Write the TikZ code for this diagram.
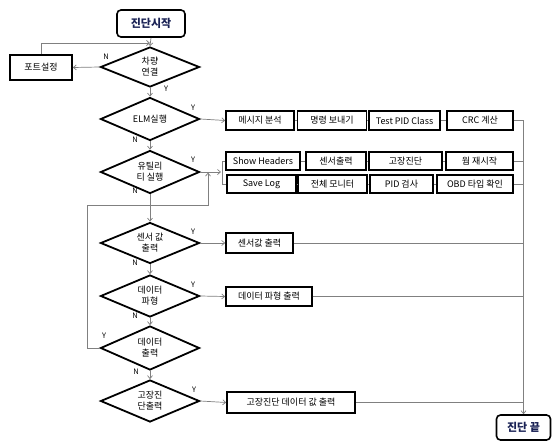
\documentclass[tikz,border=0pt]{standalone}
\usepackage{fontspec}
\setmainfont{Noto Sans CJK KR}
\usetikzlibrary{shapes.geometric,arrows.meta}
\definecolor{lineg}{HTML}{808080}
\definecolor{navy}{HTML}{1A2255}
\tikzset{
  box/.style={draw=black,line width=1.6pt,minimum height=19pt,inner sep=0pt,font=\fontsize{9}{10}\selectfont},
  term/.style={draw=black,line width=1.6pt,rounded corners=4pt,inner sep=0pt,font=\fontsize{11}{12}\selectfont\bfseries,text=navy},
  dia/.style={draw=black,line width=1.8pt,shape=diamond,aspect=2.35,inner sep=0pt,minimum width=99pt,minimum height=42pt,align=center,font=\fontsize{9}{11}\selectfont},
  conn/.style={draw=lineg,line width=0.7pt},
  arr/.style={conn,-{Straight Barb[length=3pt,width=5pt]}},
  yn/.style={inner sep=0pt,font=\fontsize{7.5}{8}\selectfont},
}
\begin{document}
\begin{tikzpicture}[x=1pt,y=-1pt]
\useasboundingbox (0,0) rectangle (553,442);
% terminals
\node[term,minimum width=68pt,minimum height=27pt] (start) at (151,23.5) {진단시작};
\node[term,minimum width=54pt,minimum height=25pt] (end) at (523.5,427.5) {진단 끝};
% diamonds
\node[dia,minimum height=40pt] (d1) at (150,67) {차량\\연결};
\node[dia,minimum height=43pt] (d2) at (150,119) {ELM실행};
\node[dia,minimum height=43pt] (d3) at (150,172) {유틸리\\티 실행};
\node[dia,minimum height=41pt] (d4) at (150,243) {센서 값\\출력};
\node[dia] (d5) at (150,296) {데이터\\파형};
\node[dia,minimum height=44pt] (d6) at (150,348) {데이터\\출력};
\node[dia] (d7) at (150,401) {고장진\\단출력};
% side box
\node[box,minimum width=62pt,minimum height=25pt] (port) at (41,67.5) {포트설정};
% row 1
\node[box,minimum width=68pt] (b11) at (260,120.5) {메시지 분석};
\node[box,minimum width=69pt] (b12) at (332,120.5) {명령 보내기};
\node[box,minimum width=71pt] (b13) at (404.5,120.5) {Test PID Class};
\node[box,minimum width=66pt] (b14) at (480,120.5) {CRC 계산};
% row 2
\node[box,minimum width=74pt,minimum height=18pt] (b21) at (263,161) {Show Headers};
\node[box,minimum width=60pt,minimum height=18pt] (b22) at (336,161) {센서출력};
\node[box,minimum width=73pt,minimum height=18pt] (b23) at (405.5,161) {고장진단};
\node[box,minimum width=67pt,minimum height=18pt] (b24) at (479.5,161) {웜 재시작};
% row 3
\node[box,minimum width=69pt,minimum height=18pt] (b31) at (261.5,184) {Save Log};
\node[box,minimum width=69pt,minimum height=18pt] (b32) at (332.5,184) {전체 모니터};
\node[box,minimum width=63pt,minimum height=18pt] (b33) at (401.5,184) {PID 검사};
\node[box,minimum width=76pt,minimum height=18pt] (b34) at (475,184) {OBD 타입 확인};
% outputs
\node[box,minimum width=67pt,minimum height=20pt] (b4) at (259.5,243) {센서값 출력};
\node[box,minimum width=86pt] (b5) at (269,296.5) {데이터 파형 출력};
\node[box,minimum width=128pt,minimum height=21pt] (b6) at (291,402.5) {고장진단 데이터 값 출력};
% helper coordinates
\coordinate (j1) at (150,43);
\coordinate (pc) at (41,43);
\coordinate (bt) at (222,161);
\coordinate (bb) at (222,184);
\coordinate (bm) at (221,172);
\coordinate (lp1) at (87,348);
\coordinate (lp2) at (87,205);
\coordinate (lp3) at (208,205);
\coordinate (lp4) at (208,172.6);
\coordinate (rv) at (523.5,120.5);
% main flow
\draw[arr] (start.south) -- (d1.north);
\draw[arr] (d1.west) -- (port.east);
\draw[arr] (port.north) -- (pc) -- (j1);
\draw[arr] (d1.south) -- (d2.north);
\draw[arr] (d2.south) -- (d3.north);
\draw[arr] (d3.south) -- (d4.north);
\draw[arr] (d4.south) -- (d5.north);
\draw[arr] (d5.south) -- (d6.north);
\draw[arr] (d6.south) -- (d7.north);
\draw[arr] (d2.east) -- (b11.west);
\draw[arr] (d4.east) -- (b4.west);
\draw[arr] (d5.east) -- (b5.west);
\draw[arr] (d7.east) -- (b6.west);
% utility bracket
\draw[arr] (d3.east) -- (bm);
\draw[conn] (b21.west) -- (bt) -- (bb) -- (b31.west);
% loop back from data output
\draw[arr] (d6.west) -- (lp1) -- (lp2) -- (lp3) -- (lp4);
% row links
\draw[conn] (b11.east) -- (b12.west);
\draw[conn] (b12.east) -- (b13.west);
\draw[conn] (b13.east) -- (b14.west);
\draw[conn] (b21.east) -- (b22.west);
\draw[conn] (b22.east) -- (b23.west);
\draw[conn] (b23.east) -- (b24.west);
\draw[conn] (b31.east) -- (b32.west);
\draw[conn] (b32.east) -- (b33.west);
\draw[conn] (b33.east) -- (b34.west);
% collectors to end
\draw[conn] (b14.east) -- (rv);
\draw[arr] (rv) -- (end.north);
\draw[conn] (b24.east) -- (b24.east -| rv);
\draw[conn] (b34.east) -- (b34.east -| rv);
\draw[conn] (b4.east) -- (b4.east -| rv);
\draw[conn] (b5.east) -- (b5.east -| rv);
\draw[conn] (b6.east) -- (b6.east -| rv);
% labels
\node[yn] (n1) at (106,57) {N};
\node[yn] (y1) at (166,89) {Y};
\node[yn] (y2) at (193,108) {Y};
\node[yn] (n2) at (135,140) {N};
\node[yn] (y3) at (193,160) {Y};
\node[yn] (n3) at (135,191) {N};
\node[yn] (y4) at (193,232) {Y};
\node[yn] (n4) at (135,263) {N};
\node[yn] (y5) at (193,285) {Y};
\node[yn] (n5) at (135,316) {N};
\node[yn] (y6) at (104,336) {Y};
\node[yn] (n6) at (136,372) {N};
\node[yn] (y7) at (194,390) {Y};
\end{tikzpicture}
\end{document}
